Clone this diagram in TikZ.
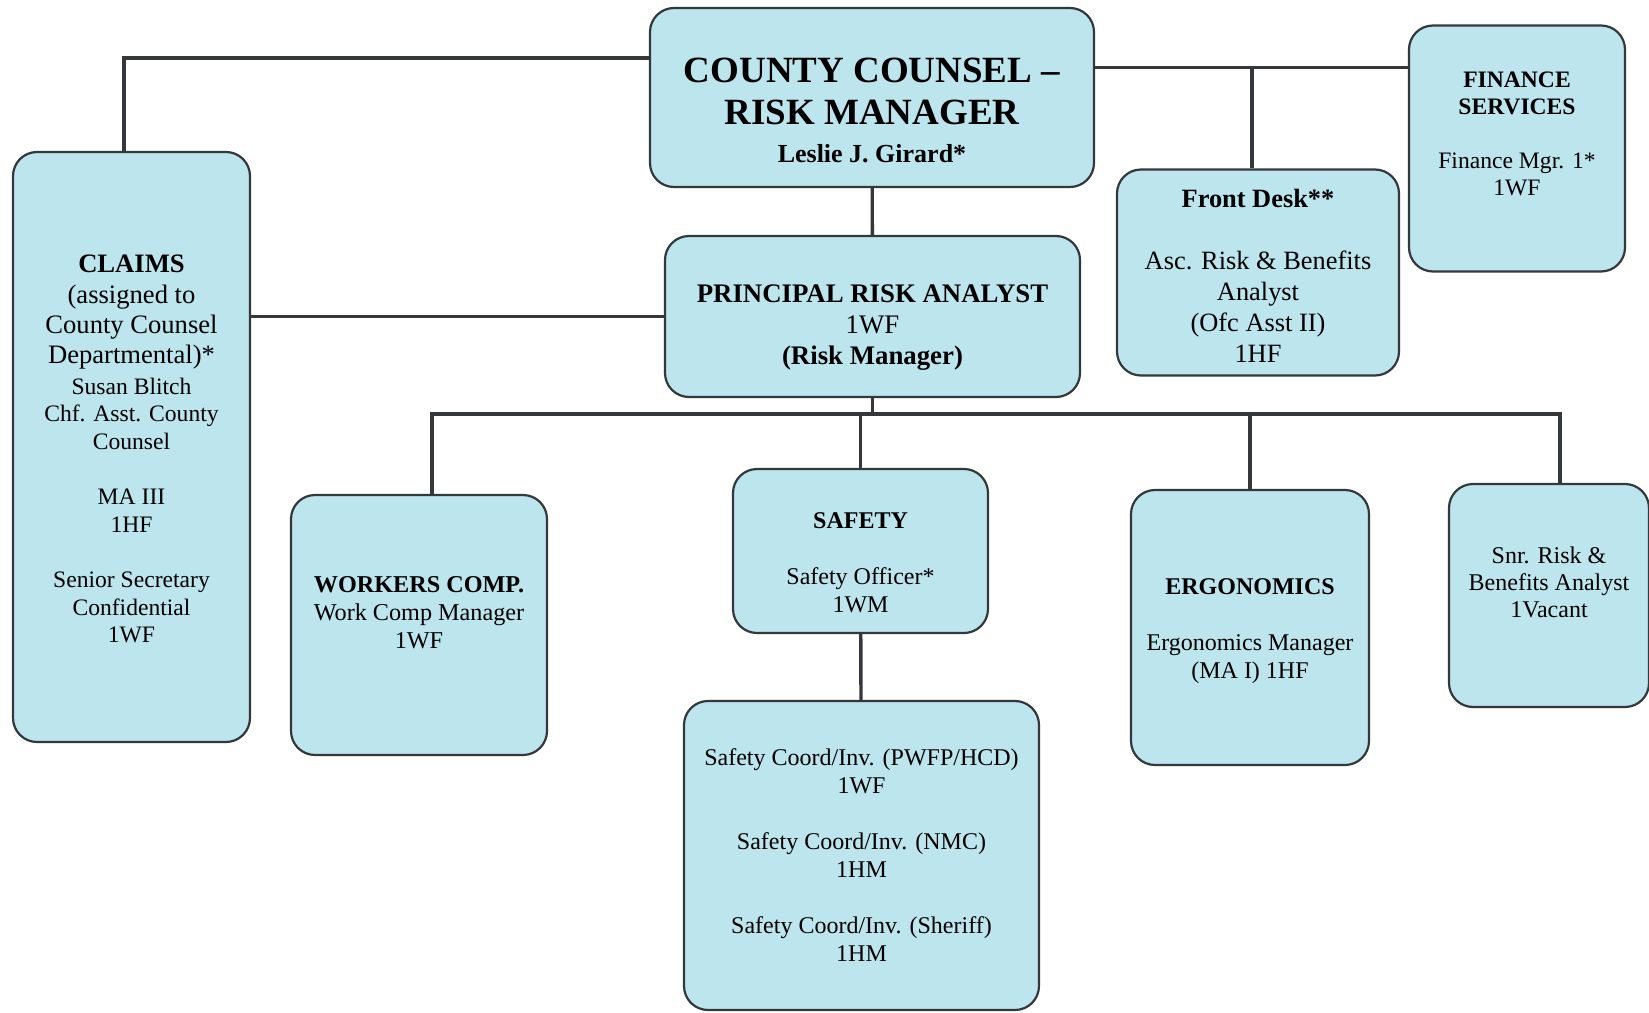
\documentclass[tikz,border=0pt]{standalone}
\usepackage{fontspec}
\setmainfont{Liberation Serif}
\usepackage{tikz}

\definecolor{boxblue}{RGB}{188,229,238}
\definecolor{linegray}{RGB}{52,56,58}

\newcommand{\fs}[2]{\fontsize{#1}{#2}\selectfont}

\tikzset{
    unit/.style={draw=linegray, fill=boxblue, line width=1.1pt,
        rounded corners=12pt, inner sep=0pt},
    boxsize/.style 2 args={minimum width=#1, minimum height=#2},
    txt/.style={align=center, inner sep=0pt, font=\fs{12}{14}},
    link/.style={draw=linegray, line width=1.7pt}
}

\begin{document}
\begin{tikzpicture}[x=0.5pt, y=-0.5pt]
    \useasboundingbox (0,0) rectangle (1649,1012);

    % boxes
    \node[unit, boxsize={222pt}{89.5pt}] (top) at (872,97.5) {};
    \node[unit, boxsize={108pt}{123pt}] (finance) at (1517,148.5) {};
    \node[unit, boxsize={141pt}{103pt}] (fdesk) at (1258,272.5) {};
    \node[unit, boxsize={207.5pt}{80.5pt}] (principal) at (872.5,316.5) {};
    \node[unit, boxsize={118.5pt}{295pt}] (claims) at (131.5,447) {};
    \node[unit, boxsize={128pt}{130pt}] (wcomp) at (419,625) {};
    \node[unit, boxsize={127.5pt}{82pt}] (safety) at (860.5,551) {};
    \node[unit, boxsize={177.5pt}{154.5pt}] (coord) at (861.5,855.5) {};
    \node[unit, boxsize={119pt}{137.5pt}] (ergo) at (1250,627.5) {};
    \node[unit, boxsize={100pt}{111.5pt}] (snr) at (1549,595.5) {};

    % texts
    \node[txt, font=\fs{18.5}{21}\bfseries] (top-t) at ([yshift=-6.3pt]top)
        {COUNTY COUNSEL --\\RISK MANAGER\\[-2pt]
         \fs{13}{15}Leslie J. Girard*};
    \node[txt, font=\fs{11.8}{13.5}] (finance-t) at ([yshift=7.4pt]finance)
        {\bfseries FINANCE\\\bfseries SERVICES\\[13.5pt]Finance Mgr. 1*\\1WF};
    \node[txt, font=\fs{13.2}{15.5}] (fdesk-t) at ([yshift=-1.6pt]fdesk)
        {\bfseries Front Desk**\\[15.5pt]Asc. Risk \& Benefits\\
         Analyst\\(Ofc Asst II)\\1HF};
    \node[txt, font=\fs{13.4}{15.5}] (principal-t) at ([yshift=-5.3pt]principal)
        {\bfseries PRINCIPAL RISK ANALYST\\1WF\\\bfseries (Risk Manager)};
    \node[txt, font=\fs{13.3}{15.2}] (claims-t) at ([yshift=-1pt]claims)
        {\bfseries CLAIMS\\(assigned to\\County Counsel\\Departmental)*\\
         \fs{11.8}{14}Susan Blitch\\[-1.4pt]\fs{11.8}{14}Chf. Asst. County\\[-1.4pt]
         \fs{11.8}{14}Counsel\\[12.4pt]\fs{11.8}{14}MA III\\[-1.4pt]\fs{11.8}{14}1HF\\[12.4pt]
         \fs{11.8}{14}Senior Secretary\\[-1.4pt]\fs{11.8}{14}Confidential\\[-1.4pt]
         \fs{11.8}{14}1WF};
    \node[txt, font=\fs{12.1}{14}] (wcomp-t) at ([yshift=6.3pt]wcomp)
        {\bfseries WORKERS COMP.\\Work Comp Manager\\1WF};
    \node[txt] (safety-t) at ([yshift=-5.8pt]safety)
        {\bfseries SAFETY\\[14pt]Safety Officer*\\1WM};
    \node[txt] (coord-t) at (coord)
        {Safety Coord/Inv. (PWFP/HCD)\\1WF\\[14pt]
         Safety Coord/Inv. (NMC)\\1HM\\[14pt]
         Safety Coord/Inv. (Sheriff)\\1HM};
    \node[txt] (ergo-t) at ([yshift=-2pt]ergo)
        {\bfseries ERGONOMICS\\[14pt]Ergonomics Manager\\(MA I) 1HF};
    \node[txt, font=\fs{12}{13.5}] (snr-t) at ([yshift=6.8pt]snr)
        {Snr. Risk \&\\Benefits Analyst\\1Vacant};

    % top row
    \coordinate (tl) at ([yshift=19.75pt]top.west);
    \coordinate (tr) at ([yshift=15pt]top.east);
    \coordinate (df) at ([xshift=-3pt]fdesk.north);
    \draw[link] (tl) -| ([xshift=-3.75pt]claims.north);
    \draw[link] (tr) -- (tr -| finance.west);
    \draw[link] (tr -| df) -- (df);
    \draw[link] (top) -- (principal);
    \draw[link] (principal.west) -- (principal.west -| claims.east);

    % lower row
    \coordinate (bus) at ([yshift=-8pt]principal.south);
    \coordinate (dw) at ([xshift=6.5pt]wcomp.north);
    \coordinate (ds) at ([xshift=5.5pt]snr.north);
    \draw[link] (principal.south) -- (bus);
    \draw[link] (dw) |- (bus -| ds) -- (ds);
    \foreach \n in {safety, ergo}
        \draw[link] (bus -| \n.north) -- (\n.north);
    \draw[link] (safety) -- (coord);
\end{tikzpicture}
\end{document}
